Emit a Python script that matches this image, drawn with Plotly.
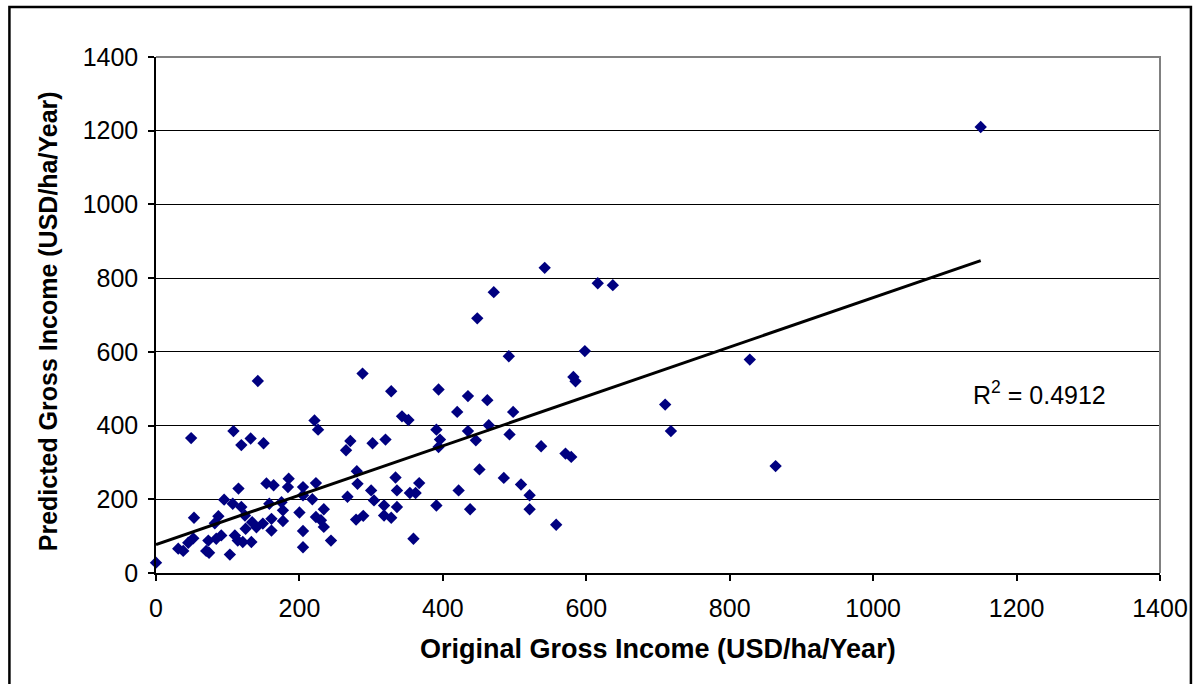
import plotly.graph_objects as go

# Original vs. predicted gross income per farm (USD/ha/Year)
original_income = [
    0, 31, 38, 45, 52, 53, 49, 70, 74, 73, 84, 91, 82, 87, 95, 103, 107, 108,
    110, 114, 115, 119, 119, 121, 124, 125, 134, 140, 149, 161, 161, 132, 133,
    142, 150, 154, 158, 164, 175, 177, 177, 185, 184, 200, 205, 205, 205, 205,
    218, 221, 223, 223, 226, 230, 234, 234, 244,
    265, 267, 271, 280, 281, 279, 288, 289, 300, 302, 304, 318, 318, 320, 328,
    328, 334, 336, 336, 343, 352, 354, 362, 359, 367, 391, 391, 394, 394, 396,
    420, 422, 435, 435, 438, 446, 448, 451, 462, 464, 471, 485, 492, 493, 498,
    509, 521, 521, 537, 542, 558, 571, 579, 582, 585, 598, 616, 637, 710, 718,
    828, 864, 1150,
]
predicted_income = [
    28, 66, 60, 82, 94, 150, 366, 60, 55, 88, 93, 102, 135, 154, 199, 50, 188, 385,
    102, 88, 229, 179, 347, 84, 156, 120, 138, 124, 134, 115, 147, 365, 84,
    521, 352, 243, 188, 238, 192, 170, 141, 256, 233, 164, 233, 211, 114, 70,
    200, 414, 244, 152, 389, 143, 125, 173, 88,
    333, 207, 358, 276, 242, 145, 541, 155, 224, 352, 197, 183, 156, 362, 493,
    150, 259, 224, 179, 425, 415, 217, 217, 93, 244, 389, 183, 498, 342, 362,
    437, 224, 480, 385, 173, 360, 691, 281, 469, 401, 762, 258, 588, 376, 437,
    240, 211, 173, 344, 828, 131, 324, 315, 532, 520, 602, 786, 781, 457, 385,
    579, 290, 1210,
]

# Linear trend line and its goodness of fit
trend_intercept = 77
trend_slope = 0.67
trend_x = [0, 1150]
r_squared = 0.4912

axis_ticks = [0, 200, 400, 600, 800, 1000, 1200, 1400]

trend_y = [trend_intercept + trend_slope * v for v in trend_x]

font_family = "Liberation Sans, Arial, sans-serif"

fig = go.Figure()

fig.add_trace(go.Scatter(
    x=original_income,
    y=predicted_income,
    mode="markers",
    marker=dict(symbol="diamond", size=9.5, color="#000080", line=dict(width=0)),
    cliponaxis=False,
    showlegend=False,
))

fig.add_trace(go.Scatter(
    x=trend_x,
    y=trend_y,
    mode="lines",
    line=dict(color="black", width=3),
    showlegend=False,
))

fig.update_xaxes(
    range=[0, 1400],
    tickvals=axis_ticks,
    ticks="outside",
    ticklen=6,
    tickwidth=1.5,
    tickcolor="black",
    ticklabelstandoff=6,
    showline=True,
    linecolor="black",
    linewidth=1.5,
    showgrid=False,
    zeroline=False,
    tickfont=dict(family=font_family, size=25, color="black"),
)

fig.update_yaxes(
    range=[0, 1400],
    tickvals=axis_ticks,
    ticks="outside",
    ticklen=6,
    tickwidth=1.5,
    tickcolor="black",
    ticklabelstandoff=5,
    showline=True,
    linecolor="black",
    linewidth=1.5,
    showgrid=True,
    gridcolor="black",
    gridwidth=1,
    zeroline=False,
    tickfont=dict(family=font_family, size=25, color="black"),
)

fig.update_layout(
    width=1200,
    height=684,
    margin=dict(l=156, r=37, t=57, b=111),
    paper_bgcolor="white",
    plot_bgcolor="white",
    font=dict(family=font_family, color="black"),
    shapes=[
        # grey border along the top and right of the plotting area
        dict(type="path", xref="paper", yref="paper",
             path="M 0,1 L 1,1 L 1,0",
             line=dict(color="#808080", width=2), layer="above"),
        # outer chart frame
        dict(type="path", xref="paper", yref="paper",
             path="M -0.146,-0.25 L -0.146,1.097 L 1.0308,1.097 L 1.0308,-0.25",
             line=dict(color="black", width=2.5), layer="above"),
    ],
    annotations=[
        dict(text="<b>Original Gross Income (USD/ha/Year)</b>",
             xref="paper", yref="paper", x=0.5, y=-0.147,
             xanchor="center", yanchor="middle", showarrow=False,
             font=dict(family=font_family, size=27, color="black")),
        dict(text="<b>Predicted Gross Income (USD/ha/Year)</b>",
             xref="paper", yref="paper", x=-0.108, y=0.487,
             xanchor="center", yanchor="middle", showarrow=False, textangle=-90,
             font=dict(family=font_family, size=25, color="black")),
        dict(text=f"R<sup>2</sup> = {r_squared}",
             xref="x", yref="y", x=1136, y=488,
             xanchor="left", yanchor="middle", showarrow=False,
             font=dict(family=font_family, size=25, color="black")),
    ],
)

fig.write_html("out.html")
